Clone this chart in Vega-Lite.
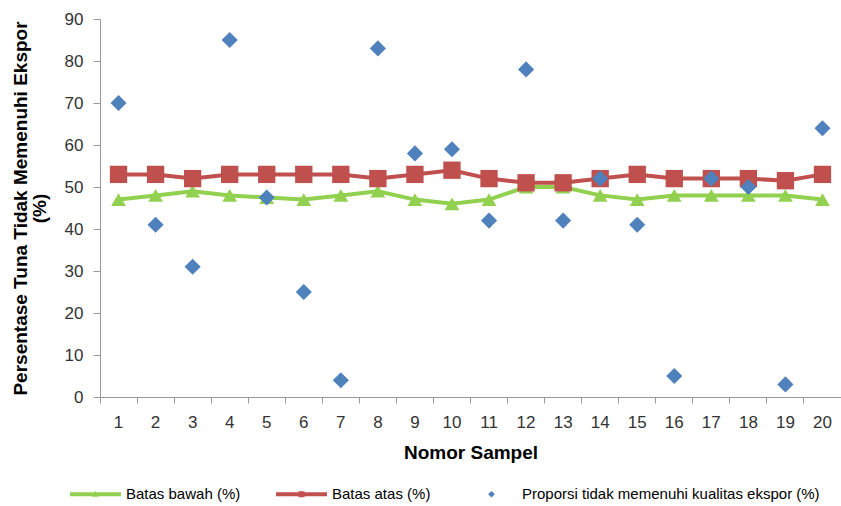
{
  "$schema": "https://vega.github.io/schema/vega-lite/v6.json",
  "width": 741,
  "height": 378,
  "autosize": "none",
  "padding": {"left": 100, "top": 19, "right": 0, "bottom": 109},
  "config": {"view": {"stroke": null}, "font": "Liberation Sans"},
  "data": {"values": [
    {"sampel": 1, "series": "Batas bawah (%)", "value": 47},
    {"sampel": 2, "series": "Batas bawah (%)", "value": 48},
    {"sampel": 3, "series": "Batas bawah (%)", "value": 49},
    {"sampel": 4, "series": "Batas bawah (%)", "value": 48},
    {"sampel": 5, "series": "Batas bawah (%)", "value": 47.5},
    {"sampel": 6, "series": "Batas bawah (%)", "value": 47},
    {"sampel": 7, "series": "Batas bawah (%)", "value": 48},
    {"sampel": 8, "series": "Batas bawah (%)", "value": 49},
    {"sampel": 9, "series": "Batas bawah (%)", "value": 47},
    {"sampel": 10, "series": "Batas bawah (%)", "value": 46},
    {"sampel": 11, "series": "Batas bawah (%)", "value": 47},
    {"sampel": 12, "series": "Batas bawah (%)", "value": 50},
    {"sampel": 13, "series": "Batas bawah (%)", "value": 50},
    {"sampel": 14, "series": "Batas bawah (%)", "value": 48},
    {"sampel": 15, "series": "Batas bawah (%)", "value": 47},
    {"sampel": 16, "series": "Batas bawah (%)", "value": 48},
    {"sampel": 17, "series": "Batas bawah (%)", "value": 48},
    {"sampel": 18, "series": "Batas bawah (%)", "value": 48},
    {"sampel": 19, "series": "Batas bawah (%)", "value": 48},
    {"sampel": 20, "series": "Batas bawah (%)", "value": 47},
    {"sampel": 1, "series": "Batas atas (%)", "value": 53},
    {"sampel": 2, "series": "Batas atas (%)", "value": 53},
    {"sampel": 3, "series": "Batas atas (%)", "value": 52},
    {"sampel": 4, "series": "Batas atas (%)", "value": 53},
    {"sampel": 5, "series": "Batas atas (%)", "value": 53},
    {"sampel": 6, "series": "Batas atas (%)", "value": 53},
    {"sampel": 7, "series": "Batas atas (%)", "value": 53},
    {"sampel": 8, "series": "Batas atas (%)", "value": 52},
    {"sampel": 9, "series": "Batas atas (%)", "value": 53},
    {"sampel": 10, "series": "Batas atas (%)", "value": 54},
    {"sampel": 11, "series": "Batas atas (%)", "value": 52},
    {"sampel": 12, "series": "Batas atas (%)", "value": 51},
    {"sampel": 13, "series": "Batas atas (%)", "value": 51},
    {"sampel": 14, "series": "Batas atas (%)", "value": 52},
    {"sampel": 15, "series": "Batas atas (%)", "value": 53},
    {"sampel": 16, "series": "Batas atas (%)", "value": 52},
    {"sampel": 17, "series": "Batas atas (%)", "value": 52},
    {"sampel": 18, "series": "Batas atas (%)", "value": 52},
    {"sampel": 19, "series": "Batas atas (%)", "value": 51.5},
    {"sampel": 20, "series": "Batas atas (%)", "value": 53},
    {"sampel": 1, "series": "Proporsi tidak memenuhi kualitas ekspor (%)", "value": 70},
    {"sampel": 2, "series": "Proporsi tidak memenuhi kualitas ekspor (%)", "value": 41},
    {"sampel": 3, "series": "Proporsi tidak memenuhi kualitas ekspor (%)", "value": 31},
    {"sampel": 4, "series": "Proporsi tidak memenuhi kualitas ekspor (%)", "value": 85},
    {"sampel": 5, "series": "Proporsi tidak memenuhi kualitas ekspor (%)", "value": 47.5},
    {"sampel": 6, "series": "Proporsi tidak memenuhi kualitas ekspor (%)", "value": 25},
    {"sampel": 7, "series": "Proporsi tidak memenuhi kualitas ekspor (%)", "value": 4},
    {"sampel": 8, "series": "Proporsi tidak memenuhi kualitas ekspor (%)", "value": 83},
    {"sampel": 9, "series": "Proporsi tidak memenuhi kualitas ekspor (%)", "value": 58},
    {"sampel": 10, "series": "Proporsi tidak memenuhi kualitas ekspor (%)", "value": 59},
    {"sampel": 11, "series": "Proporsi tidak memenuhi kualitas ekspor (%)", "value": 42},
    {"sampel": 12, "series": "Proporsi tidak memenuhi kualitas ekspor (%)", "value": 78},
    {"sampel": 13, "series": "Proporsi tidak memenuhi kualitas ekspor (%)", "value": 42},
    {"sampel": 14, "series": "Proporsi tidak memenuhi kualitas ekspor (%)", "value": 52},
    {"sampel": 15, "series": "Proporsi tidak memenuhi kualitas ekspor (%)", "value": 41},
    {"sampel": 16, "series": "Proporsi tidak memenuhi kualitas ekspor (%)", "value": 5},
    {"sampel": 17, "series": "Proporsi tidak memenuhi kualitas ekspor (%)", "value": 52},
    {"sampel": 18, "series": "Proporsi tidak memenuhi kualitas ekspor (%)", "value": 50},
    {"sampel": 19, "series": "Proporsi tidak memenuhi kualitas ekspor (%)", "value": 3},
    {"sampel": 20, "series": "Proporsi tidak memenuhi kualitas ekspor (%)", "value": 64}
  ]},
  "encoding": {
    "x": {
      "field": "sampel", "type": "ordinal",
      "scale": {"type": "band", "paddingInner": 0, "paddingOuter": 0},
      "axis": {
        "title": "Nomor Sampel", "titleFontSize": 19, "titleFontWeight": "bold", "titleColor": "#000",
        "titlePadding": 13,
        "labelFontSize": 17, "labelColor": "#333", "labelAngle": 0, "labelPadding": 11,
        "bandPosition": 0,
        "tickSize": 6, "tickColor": "#999", "domainColor": "#999", "grid": false
      }
    },
    "y": {
      "field": "value", "type": "quantitative",
      "scale": {"domain": [0, 90], "nice": false},
      "axis": {
        "values": [0, 10, 20, 30, 40, 50, 60, 70, 80, 90],
        "title": ["Persentase Tuna Tidak Memenuhi Ekspor", "(%)"],
        "titleFontSize": 19, "titleFontWeight": "bold", "titleColor": "#000", "titlePadding": 15,
        "titleLineHeight": 19,
        "labelFontSize": 17, "labelColor": "#333", "labelPadding": 10,
        "tickSize": 7, "tickColor": "#999", "domainColor": "#999", "grid": false
      }
    },
    "color": {
      "field": "series", "type": "nominal",
      "scale": {
        "domain": ["Batas bawah (%)", "Batas atas (%)", "Proporsi tidak memenuhi kualitas ekspor (%)"],
        "range": ["#92D050", "#C0504D", "#4F81BD"]
      },
      "legend": {
        "title": null, "orient": "none", "legendX": -30, "legendY": 449.5,
        "direction": "horizontal", "columns": 3, "columnPadding": 35,
        "labelOffset": 5, "labelFontSize": 15, "labelColor": "#000", "labelLimit": 400,
        "symbolSize": 2601,
        "encode": {
          "symbols": {
            "update": {
              "shape": {"signal": "datum.value === 'Batas bawah (%)' ? 'M-1,-0.08H1V0.08H-1Z M-0.13,0.1L0,-0.14L0.13,0.1Z' : (datum.value === 'Batas atas (%)' ? 'M-1,-0.08H1V0.08H-1Z M-0.12,-0.12H0.12V0.12H-0.12Z' : 'diamond')"},
              "size": {"signal": "datum.value === 'Proporsi tidak memenuhi kualitas ekspor (%)' ? 45 : 2601"},
              "fill": {"scale": "color", "field": "value"},
              "strokeWidth": {"value": 0},
              "opacity": {"value": 1}
            }
          }
        }
      }
    }
  },
  "layer": [
    {
      "transform": [{"filter": "datum.series === 'Batas bawah (%)'"}],
      "mark": {"type": "line", "strokeWidth": 4}
    },
    {
      "transform": [{"filter": "datum.series === 'Batas bawah (%)'"}],
      "mark": {"type": "point", "shape": "triangle-up", "filled": true, "size": 220, "opacity": 1}
    },
    {
      "transform": [{"filter": "datum.series === 'Batas atas (%)'"}],
      "mark": {"type": "line", "strokeWidth": 4}
    },
    {
      "transform": [{"filter": "datum.series === 'Batas atas (%)'"}],
      "mark": {"type": "point", "shape": "square", "filled": true, "size": 300, "opacity": 1}
    },
    {
      "transform": [{"filter": "datum.series === 'Proporsi tidak memenuhi kualitas ekspor (%)'"}],
      "mark": {"type": "point", "shape": "diamond", "filled": true, "size": 260, "opacity": 1}
    }
  ]
}
